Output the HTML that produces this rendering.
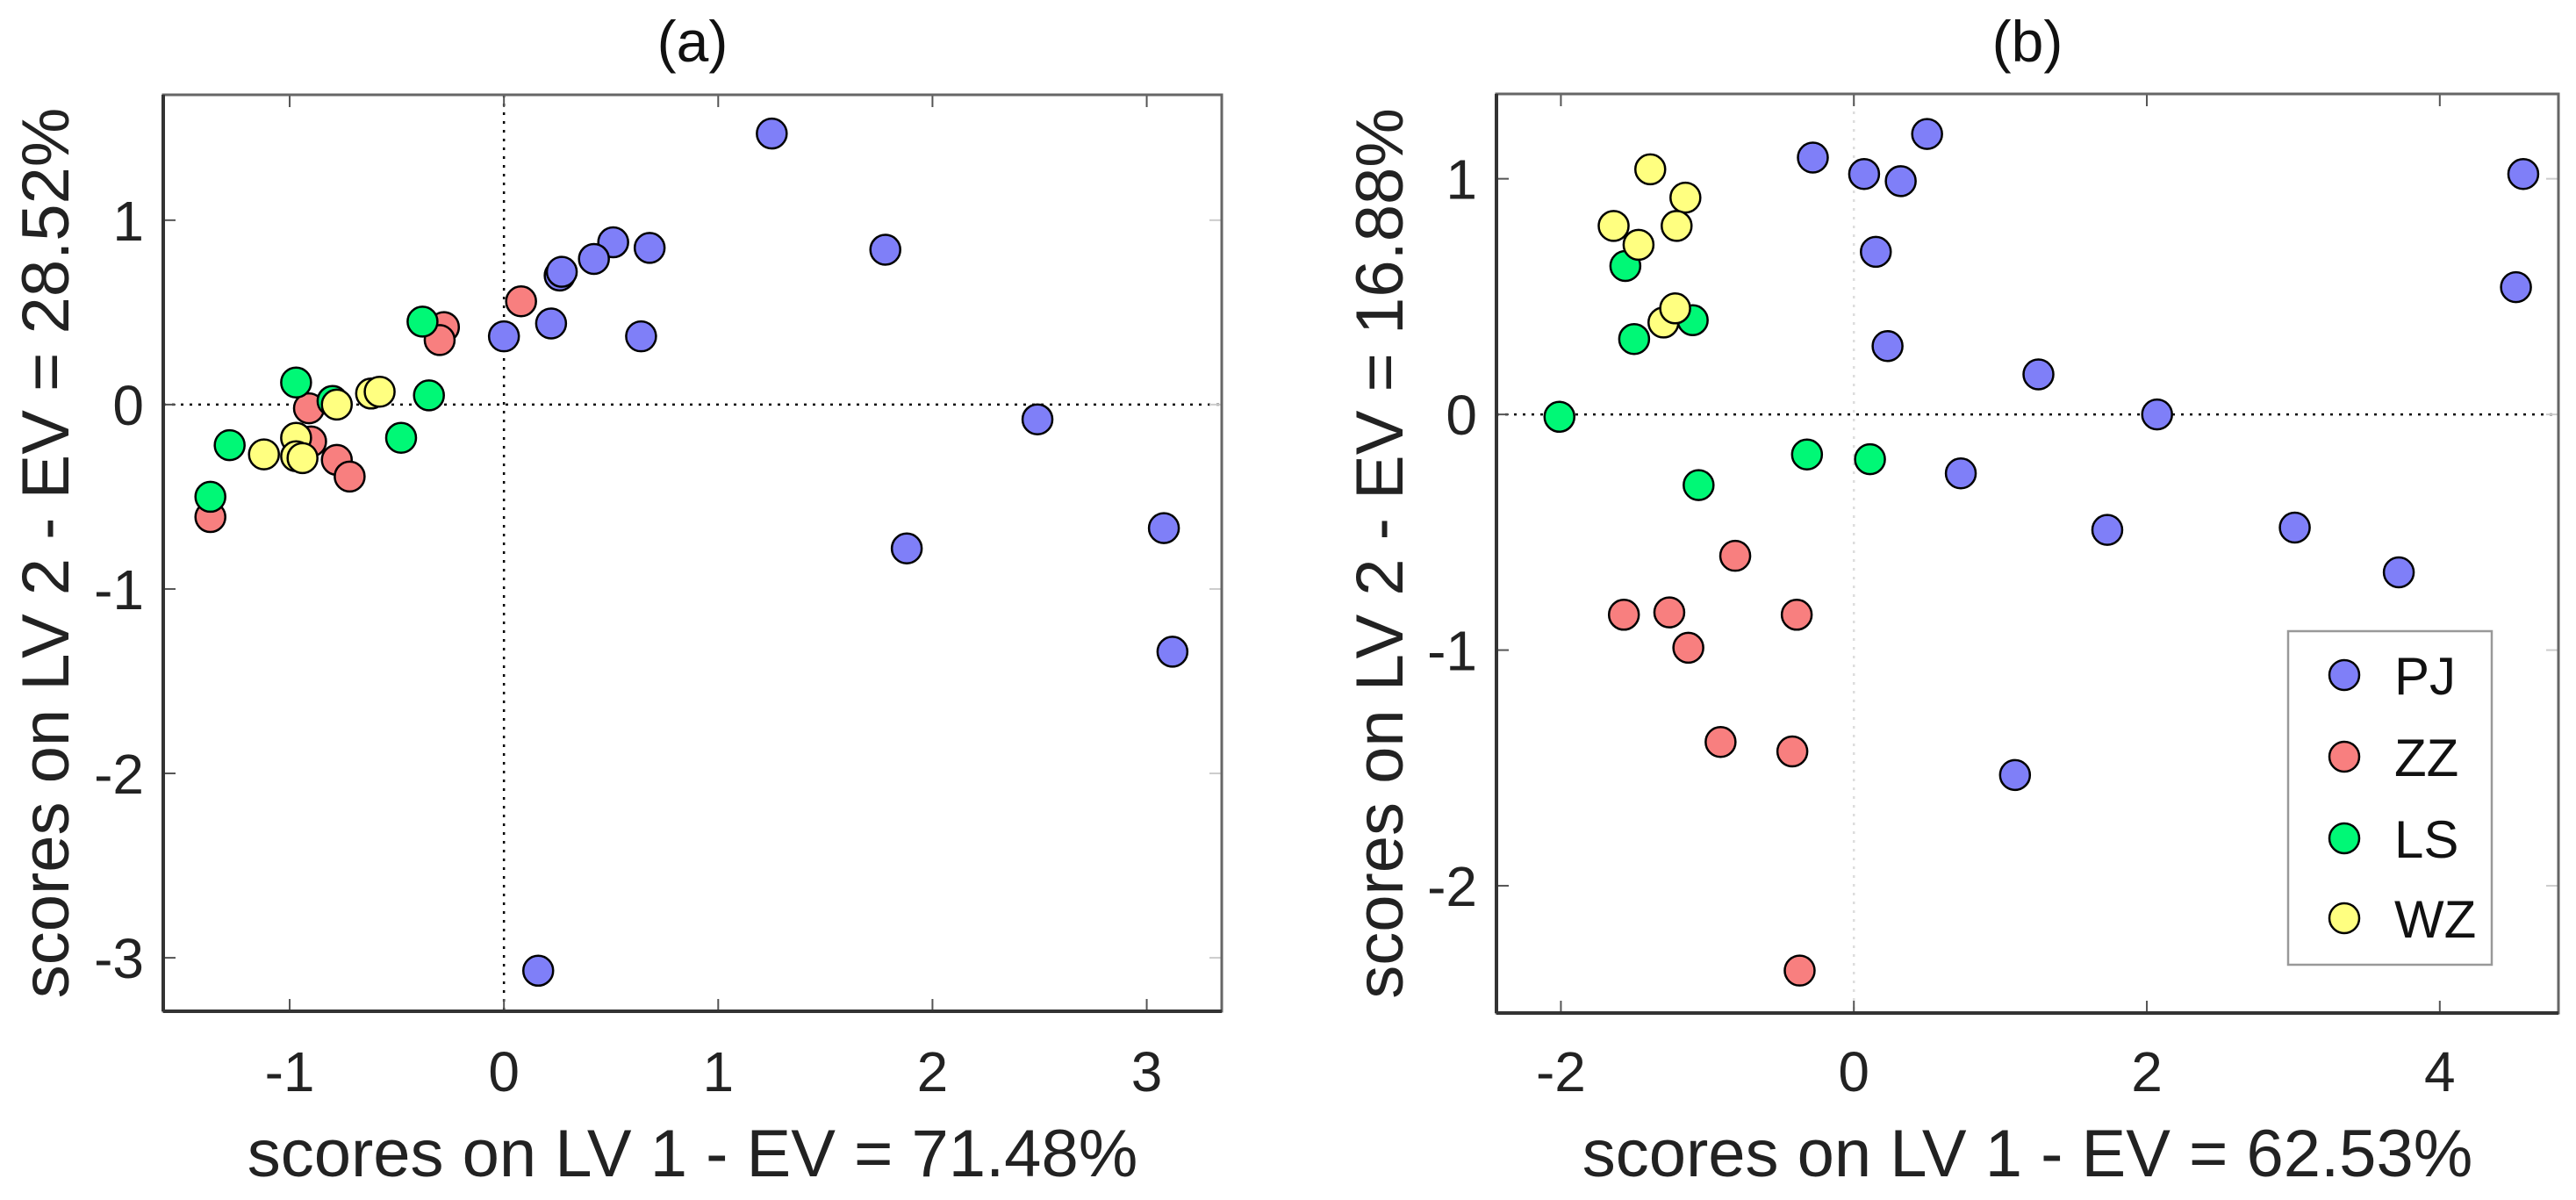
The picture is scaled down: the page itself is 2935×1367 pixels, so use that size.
<!DOCTYPE html>
<html><head><meta charset="utf-8"><style>
html,body{margin:0;padding:0;background:#fff;}
svg{display:block;font-family:"Liberation Sans",Arial,sans-serif;}
</style></head><body>
<svg id="fig" width="2935" height="1367" viewBox="0 0 2935 1367"></svg>
<script>
// ---- Panel (a) data ----
const aPJx=[1.25,1.78,0.51,0.68,0.42,0.26,0.27,0.22,0.0,0.64,2.49,1.88,3.08,3.12,0.16];
const aPJy=[1.47,0.84,0.88,0.85,0.79,0.70,0.72,0.44,0.37,0.37,-0.08,-0.78,-0.67,-1.34,-3.07];
const aZZx=[0.08,-0.28,-0.30,-0.91,-0.90,-0.78,-0.72,-1.37];
const aZZy=[0.56,0.42,0.35,-0.02,-0.20,-0.30,-0.39,-0.61];
const aLSx=[-0.38,-0.97,-0.35,-0.48,-1.28,-1.37,-0.80];
const aLSy=[0.45,0.12,0.05,-0.18,-0.22,-0.50,0.02];
const aWZx=[-0.78,-0.62,-0.58,-1.12,-0.97,-0.97,-0.94];
const aWZy=[0.00,0.06,0.07,-0.27,-0.18,-0.28,-0.29];
const aXTicks=[-1,0,1,2,3];
const aYTicks=[-3,-2,-1,0,1];
// ---- Panel (b) data ----
const bPJx=[-0.28,0.07,0.32,0.50,0.15,0.23,1.26,2.07,0.73,1.73,3.01,3.72,1.10,4.57,4.52];
const bPJy=[1.09,1.02,0.99,1.19,0.69,0.29,0.17,0.00,-0.25,-0.49,-0.48,-0.67,-1.53,1.02,0.54];
const bZZx=[-0.81,-1.57,-1.26,-1.13,-0.39,-0.91,-0.42,-0.37];
const bZZy=[-0.60,-0.85,-0.84,-0.99,-0.85,-1.39,-1.43,-2.36];
const bLSx=[-2.01,-1.56,-1.50,-1.10,-1.06,-0.32,0.11];
const bLSy=[-0.01,0.63,0.32,0.40,-0.30,-0.17,-0.19];
const bWZx=[-1.64,-1.39,-1.15,-1.47,-1.21,-1.30,-1.22];
const bWZy=[0.80,1.04,0.92,0.72,0.80,0.39,0.45];
const bXTicks=[-2,0,2,4];
const bYTicks=[-2,-1,0,1];
const groups=["PJ","ZZ","LS","WZ"];
const colors={PJ:"#7f7ff8",ZZ:"#f87f7f",LS:"#00f876",WZ:"#ffff80"};

const NS="http://www.w3.org/2000/svg";
const svg=document.getElementById("fig");
function mk(tag,attrs,parent){const e=document.createElementNS(NS,tag);for(const k in attrs)e.setAttribute(k,attrs[k]);(parent||svg).appendChild(e);return e;}

function panel(cfg){
  const g=mk("g",{});
  
  
  const sx=v=>cfg.L+(v-cfg.xmin)/(cfg.xmax-cfg.xmin)*(cfg.R-cfg.L);
  const sy=v=>cfg.B-(v-cfg.ymin)/(cfg.ymax-cfg.ymin)*(cfg.B-cfg.T);
  // zero lines
  const zh=mk("line",{x1:cfg.L,x2:cfg.R,y1:sy(0),y2:sy(0),stroke:"#000","stroke-width":2.5,"stroke-dasharray":"3,7"},g);
  
  
  const zv=mk("line",{x1:sx(0),x2:sx(0),y1:cfg.T,y2:cfg.B,stroke:cfg.vzColor,"stroke-width":2.5,"stroke-dasharray":"3,7"},g);
  
  
  // ticks
  cfg.xt.forEach(t=>{
    const x=sx(t);
    mk("line",{x1:x,x2:x,y1:cfg.B,y2:cfg.B-14,stroke:"#555","stroke-width":2},g);
    mk("line",{x1:x,x2:x,y1:cfg.T,y2:cfg.T+14,stroke:"#555","stroke-width":2},g);
    const tx=mk("text",{x:x,y:1243,"font-size":64,"text-anchor":"middle",fill:"#222"},g);
    tx.textContent=t<0?"-"+Math.abs(t):String(t);
    
    
  });
  cfg.yt.forEach(t=>{
    const y=sy(t);
    mk("line",{x1:cfg.L,x2:cfg.L+14,y1:y,y2:y,stroke:"#555","stroke-width":2},g);
    mk("line",{x1:cfg.R,x2:cfg.R-14,y1:y,y2:y,stroke:"#ccc","stroke-width":2},g);
    const ty=mk("text",{x:cfg.L-22,y:y+23,"font-size":64,"text-anchor":"end",fill:"#222"},g);
    ty.textContent=t<0?"-"+Math.abs(t):String(t);
    
    
  });
  // points
  groups.forEach(gr=>{
    const xs=cfg.data[gr][0], ys=cfg.data[gr][1];
    xs.forEach((xv,i)=>{
      const c=mk("circle",{cx:sx(xv),cy:sy(ys[i]),r:17,fill:colors[gr],stroke:"#000","stroke-width":2.5},g);
      
      
    });
  });
  // frame
  const fr=mk("rect",{x:cfg.L,y:cfg.T,width:cfg.R-cfg.L,height:cfg.B-cfg.T,fill:"none",stroke:"#666","stroke-width":3},g);
  
  
  mk("line",{x1:cfg.L,x2:cfg.R,y1:cfg.B,y2:cfg.B,stroke:"#333","stroke-width":4},g);
  mk("line",{x1:cfg.L,x2:cfg.L,y1:cfg.T,y2:cfg.B,stroke:"#333","stroke-width":4},g);
  // titles
  const tt=mk("text",{x:(cfg.L+cfg.R)/2,y:70,"font-size":66,"text-anchor":"middle",fill:"#111"},g);
  tt.textContent=cfg.title;
  
  
  const xl=mk("text",{x:(cfg.L+cfg.R)/2,y:1340,"font-size":76,"text-anchor":"middle",fill:"#222"},g);
  xl.textContent=cfg.xlabel;
  
  
  const yl=mk("text",{x:0,y:0,"font-size":76,"text-anchor":"middle",fill:"#222",transform:`translate(${cfg.ylx},${(cfg.T+cfg.B)/2}) rotate(-90)`},g);
  yl.textContent=cfg.ylabel;
  
  
  return {g,sx,sy};
}

panel({name:"panel-a",L:186,R:1392,T:108,B:1152,xmin:-1.59,xmax:3.35,ymin:-3.29,ymax:1.68,
  xt:aXTicks,yt:aYTicks,vzColor:"#000",title:"(a)",
  xlabel:"scores on LV 1 - EV = 71.48%",ylabel:"scores on LV 2 - EV = 28.52%",ylx:78,
  data:{PJ:[aPJx,aPJy],ZZ:[aZZx,aZZy],LS:[aLSx,aLSy],WZ:[aWZx,aWZy]}});

const pb=panel({name:"panel-b",L:1705,R:2915,T:107,B:1154,xmin:-2.44,xmax:4.81,ymin:-2.54,ymax:1.36,
  xt:bXTicks,yt:bYTicks,vzColor:"#ddd",title:"(b)",
  xlabel:"scores on LV 1 - EV = 62.53%",ylabel:"scores on LV 2 - EV = 16.88%",ylx:1598,
  data:{PJ:[bPJx,bPJy],ZZ:[bZZx,bZZy],LS:[bLSx,bLSy],WZ:[bWZx,bWZy]}});

// legend
const lg=mk("g",{});


mk("rect",{x:2607,y:719,width:232,height:380,fill:"#fff",stroke:"#999","stroke-width":2.5},lg);
const legY=[769,862,955,1046];
groups.forEach((gr,i)=>{
  const c=mk("circle",{cx:2671,cy:legY[i],r:17,fill:colors[gr],stroke:"#000","stroke-width":2.5},lg);
  
  
  const t=mk("text",{x:2728,y:legY[i]+22,"font-size":60,fill:"#111"},lg);
  t.textContent=gr;
  
  
});
</script>
</body></html>
